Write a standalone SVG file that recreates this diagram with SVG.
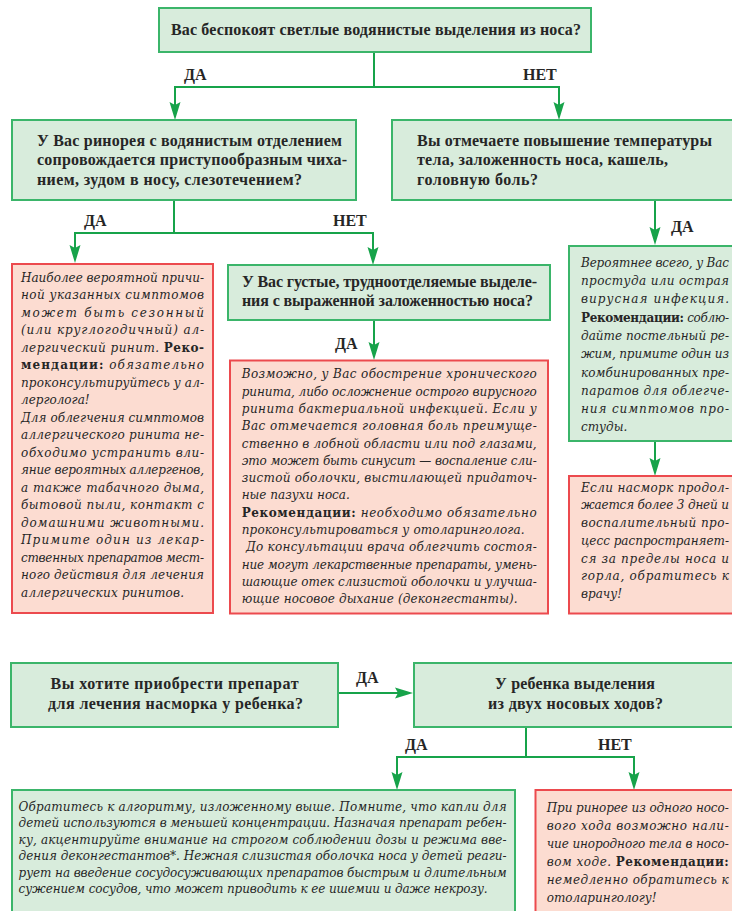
<svg xmlns="http://www.w3.org/2000/svg" width="732" height="911" viewBox="0 0 732 911">
<style>
.g{fill:#d8ecdc;stroke:#3bb56a;stroke-width:2}
.r{fill:#fcdcd1;stroke:#ec4a4e;stroke-width:2}
.q{font-family:"Liberation Serif",serif;font-weight:bold;font-size:16px;fill:#262626}
.b{font-family:"DejaVu Serif",serif;font-style:italic;font-size:12px;fill:#262626}
.bb{font-family:"DejaVu Serif",serif;font-weight:bold;font-style:normal;font-size:12px}
.lbl{font-family:"Liberation Serif",serif;font-weight:bold;font-size:16px;fill:#262626}
.c{stroke:#17a34a;stroke-width:2;fill:none}
.a{marker-end:url(#arr)}
</style>
<defs>
<marker id="arr" markerUnits="userSpaceOnUse" viewBox="0 0 18 12" refX="12" refY="6" markerWidth="18" markerHeight="12" orient="auto">
<path d="M0,0.5 L18,6 L0,11.5 L3,6 z" fill="#17a34a"/>
</marker>
</defs>
<rect width="732" height="911" fill="#ffffff"/>

<g id="connectors">
<path class="c" d="M374,52 V87"/>
<path class="c a" d="M374,87 H175 V114"/>
<path class="c a" d="M374,87 H559 V114"/>
<path class="c" d="M174,200 V233"/>
<path class="c a" d="M174,233 H75 V257"/>
<path class="c a" d="M174,233 H373 V259"/>
<path class="c a" d="M655,200 V239"/>
<path class="c a" d="M374,320 V354"/>
<path class="c a" d="M655,441 V470"/>
<path class="c a" d="M338,693 H407"/>
<path class="c" d="M526,727 V757"/>
<path class="c a" d="M526,757 H397 V784"/>
<path class="c a" d="M526,757 H634 V784"/>
<text class="lbl" x="184" y="80">ДА</text>
<text class="lbl" x="523" y="80">НЕТ</text>
<text class="lbl" x="84" y="226">ДА</text>
<text class="lbl" x="333" y="226">НЕТ</text>
<text class="lbl" x="671" y="232">ДА</text>
<text class="lbl" x="335" y="349">ДА</text>
<text class="lbl" x="356" y="683">ДА</text>
<text class="lbl" x="405" y="750">ДА</text>
<text class="lbl" x="598" y="750">НЕТ</text>
</g>

<g id="q-top">
<rect class="g" x="159" y="8" width="432" height="44"/>
<text class="q" x="171" y="34.5" textLength="410">Вас беспокоят светлые водянистые выделения из носа?</text>
</g>

<g id="q-allergy">
<rect class="g" x="12" y="120" width="344" height="80"/>
<text class="q" x="37" y="145.5" textLength="305">У Вас ринорея с водянистым отделением</text>
<text class="q" x="37" y="165" textLength="310">сопровождается приступообразным чиха-</text>
<text class="q" x="37" y="184.5" textLength="265">нием, зудом в носу, слезотечением?</text>
</g>

<g id="q-fever">
<rect class="g" x="392" y="120" width="350" height="80"/>
<text class="q" x="417" y="145.5" textLength="295">Вы отмечаете повышение температуры</text>
<text class="q" x="417" y="165" textLength="251">тела, заложенность носа, кашель,</text>
<text class="q" x="417" y="184.5" textLength="121">головную боль?</text>
</g>

<g id="r-allergic">
<rect class="r" x="12" y="264" width="201" height="349"/>
<text class="b" x="21" y="281.7" textLength="183">Наиболее вероятной причи-</text>
<text class="b" x="21" y="299.2" textLength="183">ной указанных симптомов</text>
<text class="b" x="21" y="316.7" textLength="183">может быть сезонный</text>
<text class="b" x="21" y="334.2" textLength="183">(или круглогодичный) ал-</text>
<text class="b" x="21" y="351.7" textLength="183">лергический ринит. <tspan class="bb">Реко-</tspan></text>
<text class="b" x="21" y="369.2" textLength="183"><tspan class="bb">мендации:</tspan> обязательно</text>
<text class="b" x="21" y="386.7" textLength="183">проконсультируйтесь у ал-</text>
<text class="b" x="21" y="404.2">лерголога!</text>
<text class="b" x="21" y="421.7" textLength="183">Для облегчения симптомов</text>
<text class="b" x="21" y="439.2" textLength="183">аллергического ринита не-</text>
<text class="b" x="21" y="456.7" textLength="183">обходимо устранить вли-</text>
<text class="b" x="21" y="474.2" textLength="183">яние вероятных аллергенов,</text>
<text class="b" x="21" y="491.7" textLength="183">а также табачного дыма,</text>
<text class="b" x="21" y="509.2" textLength="183">бытовой пыли, контакт с</text>
<text class="b" x="21" y="526.7" textLength="183">домашними животными.</text>
<text class="b" x="21" y="544.2" textLength="183">Примите один из лекар-</text>
<text class="b" x="21" y="561.7" textLength="183">ственных препаратов мест-</text>
<text class="b" x="21" y="579.2" textLength="183">ного действия для лечения</text>
<text class="b" x="21" y="596.7" textLength="163">аллергических ринитов.</text>
</g>

<g id="q-thick">
<rect class="g" x="228" y="265" width="322" height="55"/>
<text class="q" x="242" y="286.5" textLength="295">У Вас густые, трудноотделяемые выделе-</text>
<text class="q" x="242" y="305.5" textLength="291">ния с выраженной заложенностью носа?</text>
</g>

<g id="r-sinusitis">
<rect class="r" x="230" y="360.5" width="318" height="253"/>
<text class="b" x="241.7" y="378.3" textLength="295">Возможно, у Вас обострение хронического</text>
<text class="b" x="241.7" y="395.6" textLength="295">ринита, либо осложнение острого вирусного</text>
<text class="b" x="241.7" y="412.9" textLength="295">ринита бактериальной инфекцией. Если у</text>
<text class="b" x="241.7" y="430.2" textLength="295">Вас отмечается головная боль преимуще-</text>
<text class="b" x="241.7" y="447.5" textLength="295">ственно в лобной области или под глазами,</text>
<text class="b" x="241.7" y="464.8" textLength="295">это может быть синусит — воспаление сли-</text>
<text class="b" x="241.7" y="482.1" textLength="295">зистой оболочки, выстилающей придаточ-</text>
<text class="b" x="241.7" y="499.4">ные пазухи носа.</text>
<text class="b" x="241.7" y="516.7" textLength="295"><tspan class="bb">Рекомендации:</tspan> необходимо обязательно</text>
<text class="b" x="241.7" y="534" textLength="283">проконсультироваться у отоларинголога.</text>
<text class="b" x="246" y="551.3" textLength="290.7">До консультации врача облегчить состоя-</text>
<text class="b" x="241.7" y="568.6" textLength="295">ние могут лекарственные препараты, умень-</text>
<text class="b" x="241.7" y="585.9" textLength="295">шающие отек слизистой оболочки и улучша-</text>
<text class="b" x="241.7" y="603.2" textLength="276">ющие носовое дыхание (деконгестанты).</text>
</g>

<g id="g-cold">
<rect class="g" x="569" y="246" width="180" height="195"/>
<text class="b" x="581" y="266.7" textLength="148">Вероятнее всего, у Вас</text>
<text class="b" x="581" y="285" textLength="148">простуда или острая</text>
<text class="b" x="581" y="303.3" textLength="148">вирусная инфекция.</text>
<text class="b" x="581" y="321.6" textLength="148"><tspan class="bb">Рекомендации:</tspan> соблю-</text>
<text class="b" x="581" y="339.9" textLength="148">дайте постельный ре-</text>
<text class="b" x="581" y="358.2" textLength="148">жим, примите один из</text>
<text class="b" x="581" y="376.5" textLength="148">комбинированных пре-</text>
<text class="b" x="581" y="394.8" textLength="148">паратов для облегче-</text>
<text class="b" x="581" y="413.1" textLength="148">ния симптомов про-</text>
<text class="b" x="581" y="431.4">студы.</text>
</g>

<g id="r-doctor">
<rect class="r" x="569" y="476" width="180" height="137.5"/>
<text class="b" x="581" y="491.7" textLength="148">Если насморк продол-</text>
<text class="b" x="581" y="509.4" textLength="148">жается более 3 дней и</text>
<text class="b" x="581" y="527.1" textLength="148">воспалительный про-</text>
<text class="b" x="581" y="544.8" textLength="148">цесс распространяет-</text>
<text class="b" x="581" y="562.5" textLength="148">ся за пределы носа и</text>
<text class="b" x="581" y="580.2" textLength="148">горла, обратитесь к</text>
<text class="b" x="581" y="597.9">врачу!</text>
</g>

<g id="q-child">
<rect class="g" x="11" y="663" width="327" height="64"/>
<text class="q" x="50.5" y="689" textLength="248">Вы хотите приобрести препарат</text>
<text class="q" x="48" y="709" textLength="255">для лечения насморка у ребенка?</text>
</g>

<g id="q-both">
<rect class="g" x="414" y="663" width="330" height="64"/>
<text class="q" x="495" y="689" textLength="160">У ребенка выделения</text>
<text class="q" x="488" y="709" textLength="175">из двух носовых ходов?</text>
</g>

<g id="g-algorithm">
<rect class="g" x="12" y="790" width="503" height="130"/>
<text class="b" x="18.6" y="810.7" textLength="488">Обратитесь к алгоритму, изложенному выше. Помните, что капли для</text>
<text class="b" x="18.6" y="827.2" textLength="488">детей используются в меньшей концентрации. Назначая препарат ребен-</text>
<text class="b" x="18.6" y="843.7" textLength="488">ку, акцентируйте внимание на строгом соблюдении дозы и режима вве-</text>
<text class="b" x="18.6" y="860.2" textLength="488">дения деконгестантов*. Нежная слизистая оболочка носа у детей реаги-</text>
<text class="b" x="18.6" y="876.7" textLength="488">рует на введение сосудосуживающих препаратов быстрым и длительным</text>
<text class="b" x="18.6" y="893.2" textLength="469">сужением сосудов, что может приводить к ее ишемии и даже некрозу.</text>
</g>

<g id="r-foreign">
<rect class="r" x="535.5" y="790" width="210" height="130"/>
<text class="b" x="546.7" y="811.7" textLength="182">При ринорее из одного носо-</text>
<text class="b" x="546.7" y="829.7" textLength="182">вого хода возможно нали-</text>
<text class="b" x="546.7" y="847.7" textLength="182">чие инородного тела в носо-</text>
<text class="b" x="546.7" y="865.7" textLength="182">вом ходе. <tspan class="bb">Рекомендации:</tspan></text>
<text class="b" x="546.7" y="883.7" textLength="182">немедленно обратитесь к</text>
<text class="b" x="546.7" y="901.7">отоларингологу!</text>
</g>
</svg>
